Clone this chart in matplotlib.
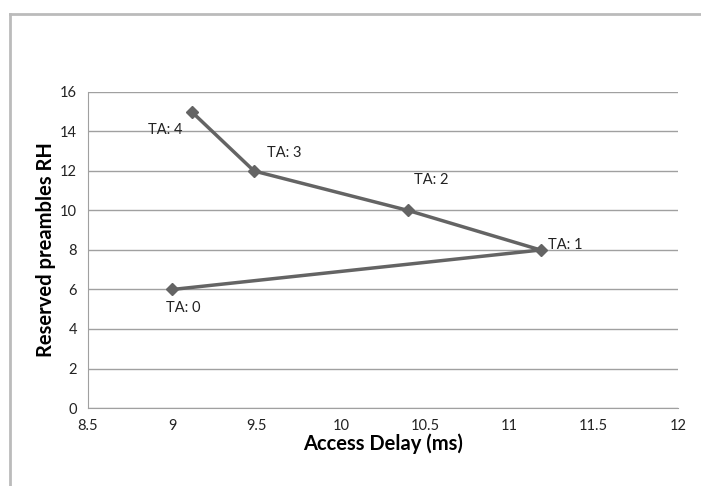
import matplotlib.pyplot as plt
from matplotlib.lines import Line2D

plt.rcParams['font.family'] = ['Lato', 'DejaVu Sans']

access_delay = [9.0, 11.185, 10.40, 9.485, 9.115]
reserved_rh = [6, 8, 10, 12, 15]
labels = ['TA: 0', 'TA: 1', 'TA: 2', 'TA: 3', 'TA: 4']
# label offsets in pixels (dx, dy), left edge / vertical centre of text
offsets = [(-6, -18), (7, 5), (6, 30), (13, 18), (-44, -18)]

fig = plt.figure(figsize=(7.01, 4.86), dpi=100)
ax = fig.add_axes([88 / 701, 1 - 408 / 486, 590 / 701, 316 / 486])

ax.plot(access_delay, reserved_rh, color='#646464', lw=2.5, marker='D',
        ms=6, mfc='#646464', mec='#646464', zorder=3)

for x, y, t, (dx, dy) in zip(access_delay, reserved_rh, labels, offsets):
    ax.annotate(t, (x, y), xytext=(dx * 0.72, dy * 0.72), textcoords='offset points',
                fontsize=10.5, color='#222222', va='center', ha='left')

ax.set_xlim(8.5, 12)
ax.set_ylim(0, 16)
ax.set_xticks([8.5, 9, 9.5, 10, 10.5, 11, 11.5, 12])
ax.set_xticklabels(['8.5', '9', '9.5', '10', '10.5', '11', '11.5', '12'])
ax.set_yticks(range(0, 17, 2))
ax.yaxis.grid(True, color='#a0a0a0', lw=1)
ax.set_axisbelow(True)
ax.tick_params(length=0, labelsize=10.5, colors='#222222', pad=8)

for s in ['top', 'right']:
    ax.spines[s].set_visible(False)
ax.spines['left'].set_color('#a0a0a0')
ax.spines['bottom'].set_color('#a0a0a0')

ax.set_xlabel('Access Delay (ms)', fontsize=14.5, fontweight='bold', labelpad=0)
ax.set_ylabel('Reserved preambles RH', fontsize=14.5, fontweight='bold', labelpad=3)

# chart area border (top and left edges visible)
fig.add_artist(Line2D([10 / 701, 10 / 701], [0, 1 - 14 / 486],
                      transform=fig.transFigure, color='#bbbbbb', lw=2))
fig.add_artist(Line2D([10 / 701, 1], [1 - 14 / 486, 1 - 14 / 486],
                      transform=fig.transFigure, color='#bbbbbb', lw=2))

fig.savefig('out.png', dpi=100)
